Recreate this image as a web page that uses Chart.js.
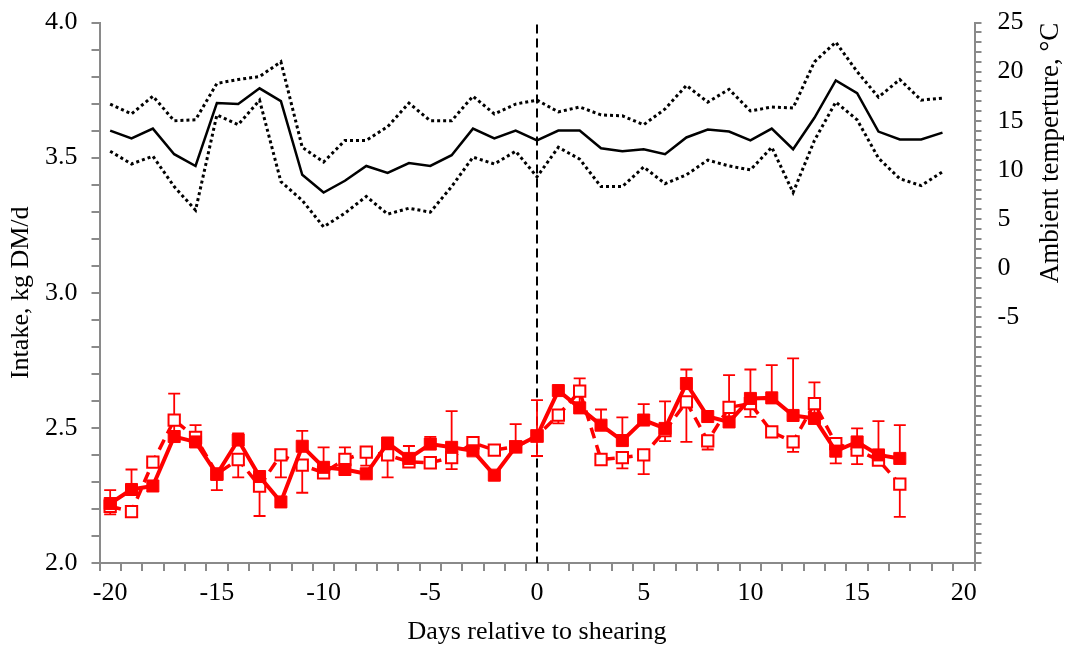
<!DOCTYPE html>
<html><head><meta charset="utf-8">
<script src="https://cdn.jsdelivr.net/npm/chart.js@4.4.1/dist/chart.umd.min.js"></script>
<style>html,body{margin:0;padding:0;background:#fff;}</style>
</head><body>
<canvas id="c" width="1071" height="650"></canvas>
<script>
// Categories: days relative to shearing
const days = [-20,-19,-18,-17,-16,-15,-14,-13,-12,-11,-10,-9,-8,-7,-6,-5,-4,-3,-2,-1,0,1,2,3,4,5,6,7,8,9,10,11,12,13,14,15,16,17,18,19,20];

// Intake (kg DM/d), filled squares / solid line, days -20..17
const intakeFilled = [2.22,2.272,2.285,2.468,2.448,2.328,2.455,2.32,2.226,2.432,2.354,2.346,2.33,2.444,2.387,2.44,2.428,2.415,2.325,2.43,2.47,2.638,2.574,2.51,2.453,2.529,2.498,2.664,2.542,2.522,2.609,2.611,2.546,2.535,2.414,2.448,2.40,2.387];
// upper end of error bar (filled series)
const intakeFilledErrTop = [2.27,2.346,null,2.627,2.51,null,2.48,null,null,2.489,2.428,2.428,null,null,2.433,2.467,2.562,null,null,2.514,2.603,null,2.683,2.568,2.539,2.588,2.598,2.716,null,2.695,2.716,2.732,2.757,2.668,null,2.498,2.525,2.51];

// Intake (kg DM/d), open squares / dashed line, days -20..17
const intakeOpen = [2.21,2.19,2.373,2.529,2.465,2.33,2.383,2.285,2.40,2.362,2.334,2.383,2.41,2.40,2.374,2.371,2.39,2.445,2.418,2.43,2.47,2.547,2.636,2.383,2.39,2.40,2.49,2.596,2.452,2.576,2.59,2.485,2.448,2.59,2.442,2.418,2.381,2.292];
// lower end of error bar (open series)
const intakeOpenErrBottom = [2.18,null,null,null,null,2.27,2.317,2.174,2.317,2.26,null,null,2.36,2.317,null,null,2.347,null,null,null,2.396,2.517,null,null,2.35,2.329,2.451,2.448,2.42,null,2.541,null,2.411,null,2.369,2.366,null,2.171];

// Ambient temperature (°C), days -20..19
const tempMean = [14.0,13.2,14.2,11.6,10.4,16.8,16.7,18.3,17.0,9.5,7.7,8.9,10.4,9.7,10.7,10.4,11.5,14.2,13.2,14.0,13.0,14.0,14.0,12.2,11.9,12.1,11.6,13.3,14.1,13.9,13.0,14.2,12.1,15.3,19.1,17.8,13.9,13.1,13.1,13.8];
const tempMax = [16.7,15.7,17.5,15.0,15.1,18.8,19.2,19.5,21.0,12.3,10.8,13.0,13.0,14.4,16.8,15.0,15.0,17.5,15.7,16.7,17.1,15.9,16.4,15.6,15.5,14.6,16.2,18.6,16.9,18.2,16.0,16.4,16.3,21.0,23.0,20.0,17.4,19.2,17.1,17.3];
const tempMin = [11.9,10.6,11.4,8.3,5.9,15.6,14.6,17.1,8.8,6.9,4.2,5.6,7.3,5.5,6.1,5.7,8.3,11.3,10.6,11.9,9.3,12.3,11.1,8.3,8.3,10.3,8.6,9.5,11.0,10.4,10.0,12.3,7.7,13.0,16.9,15.1,11.2,9.1,8.4,9.8];

const shearingDay = 0;
const FONT = 'Liberation Serif, "Times New Roman", serif';
const AXIS = '#8a8a8a';
const RED = '#ff0000';

const errorBars = {
  id: 'errorBars',
  beforeDatasetsDraw(chart) {
    const {ctx, scales} = chart;
    const x = scales.x, y = scales.y;
    ctx.save();
    // shearing line
    const px0 = x.getPixelForValue(days.indexOf(shearingDay));
    ctx.strokeStyle = '#000'; ctx.lineWidth = 2; ctx.setLineDash([9,5]);
    ctx.beginPath(); ctx.moveTo(px0, chart.chartArea.top + 2); ctx.lineTo(px0, chart.chartArea.bottom); ctx.stroke();
    ctx.setLineDash([]);
    ctx.strokeStyle = RED; ctx.lineWidth = 1.8;
    const draw = (vals, ends) => {
      vals.forEach((v, i) => {
        const e = ends[i];
        if (v == null || e == null) return;
        const px = x.getPixelForValue(i);
        const y0 = y.getPixelForValue(v), y1 = y.getPixelForValue(e);
        ctx.beginPath();
        ctx.moveTo(px, y0); ctx.lineTo(px, y1);
        ctx.moveTo(px - 6, y1); ctx.lineTo(px + 6, y1);
        ctx.stroke();
      });
    };
    draw(intakeFilled, intakeFilledErrTop);
    draw(intakeOpen, intakeOpenErrBottom);
    ctx.restore();
  },
  afterDraw(chart) {
    const {ctx} = chart;
    ctx.save();
    ctx.font = '27px ' + FONT;
    ctx.fillStyle = '#000';
    ctx.textAlign = 'center';
    ctx.textBaseline = 'middle';
    ctx.translate(1051, 153);
    ctx.rotate(-Math.PI / 2);
    ctx.fillText('Ambient temperture, °C', 0, 0);
    ctx.restore();
  }
};

const fitV = w => s => { s.width = w; s.paddingTop = 0; s.paddingBottom = 0; };

new Chart(document.getElementById('c'), {
  type: 'line',
  data: {
    labels: days,
    datasets: [
      { label: 'Intake (filled)', data: intakeFilled, yAxisID: 'y', order: 1,
        borderColor: RED, backgroundColor: RED, borderWidth: 4,
        pointStyle: 'rect', pointRadius: 8.5, pointBorderWidth: 1, pointBackgroundColor: RED, pointBorderColor: RED },
      { label: 'Intake (open)', data: intakeOpen, yAxisID: 'y', order: 2,
        borderColor: RED, backgroundColor: '#fff', borderWidth: 3.5, borderDash: [11,7],
        pointStyle: 'rect', pointRadius: 8, pointBorderWidth: 2, pointBackgroundColor: '#fff', pointBorderColor: RED },
      { label: 'Mean temperature', data: tempMean, yAxisID: 'y2', order: 3,
        borderColor: '#000', borderWidth: 2.5, pointRadius: 0 },
      { label: 'Max temperature', data: tempMax, yAxisID: 'y2', order: 4,
        borderColor: '#000', borderWidth: 3, borderDash: [3,3], borderCapStyle: 'butt', pointRadius: 0 },
      { label: 'Min temperature', data: tempMin, yAxisID: 'y2', order: 5,
        borderColor: '#000', borderWidth: 3, borderDash: [3,3], borderCapStyle: 'butt', pointRadius: 0 }
    ]
  },
  options: {
    responsive: false, animation: false, devicePixelRatio: 1,
    layout: { padding: { top: 22.5, left: 0, right: 0, bottom: 0 } },
    plugins: { legend: { display: false }, tooltip: { enabled: false } },
    elements: { line: { tension: 0 } },
    scales: {
      x: {
        type: 'category', offset: true,
        grid: { offset: true, drawOnChartArea: false, drawTicks: true, tickLength: 8, color: AXIS, lineWidth: 2 },
        border: { display: true, color: AXIS, width: 2 },
        ticks: { autoSkip: false, maxRotation: 0, minRotation: 0, padding: 7, color: '#000', font: { family: FONT, size: 26 },
          callback: (v, i) => (days[i] % 5 === 0 ? String(days[i]) : '') },
        title: { display: true, text: 'Days relative to shearing', color: '#000', font: { family: FONT, size: 26 }, padding: { top: 2, bottom: 2 } },
        afterFit: s => { s.height = 87; s.paddingLeft = 0; s.paddingRight = 0; }
      },
      y: {
        type: 'linear', position: 'left', min: 2, max: 4,
        grid: { drawOnChartArea: false, drawTicks: true, tickLength: 8, color: AXIS, lineWidth: 2 },
        border: { display: true, color: AXIS, width: 2 },
        ticks: { stepSize: 0.1, autoSkip: false, padding: 14, color: '#000', font: { family: FONT, size: 26 },
          callback: v => (Math.round(v * 10) % 5 === 0 ? v.toFixed(1) : '') },
        title: { display: true, text: 'Intake, kg DM/d', color: '#000', font: { family: FONT, size: 26 }, padding: { top: 6, bottom: 6 } },
        afterFit: fitV(99.5)
      },
      y2: {
        type: 'linear', position: 'right', min: -30, max: 25,
        grid: { drawOnChartArea: false, drawTicks: true, tickLength: 7, color: AXIS, lineWidth: 2 },
        border: { display: true, color: AXIS, width: 2 },
        ticks: { stepSize: 1, autoSkip: false, padding: 16, color: '#000', font: { family: FONT, size: 26 },
          callback: v => (v % 5 === 0 && v >= -5 ? String(v) : '') },
        afterFit: fitV(96.5)
      }
    }
  },
  plugins: [errorBars]
});
</script>
</body></html>
